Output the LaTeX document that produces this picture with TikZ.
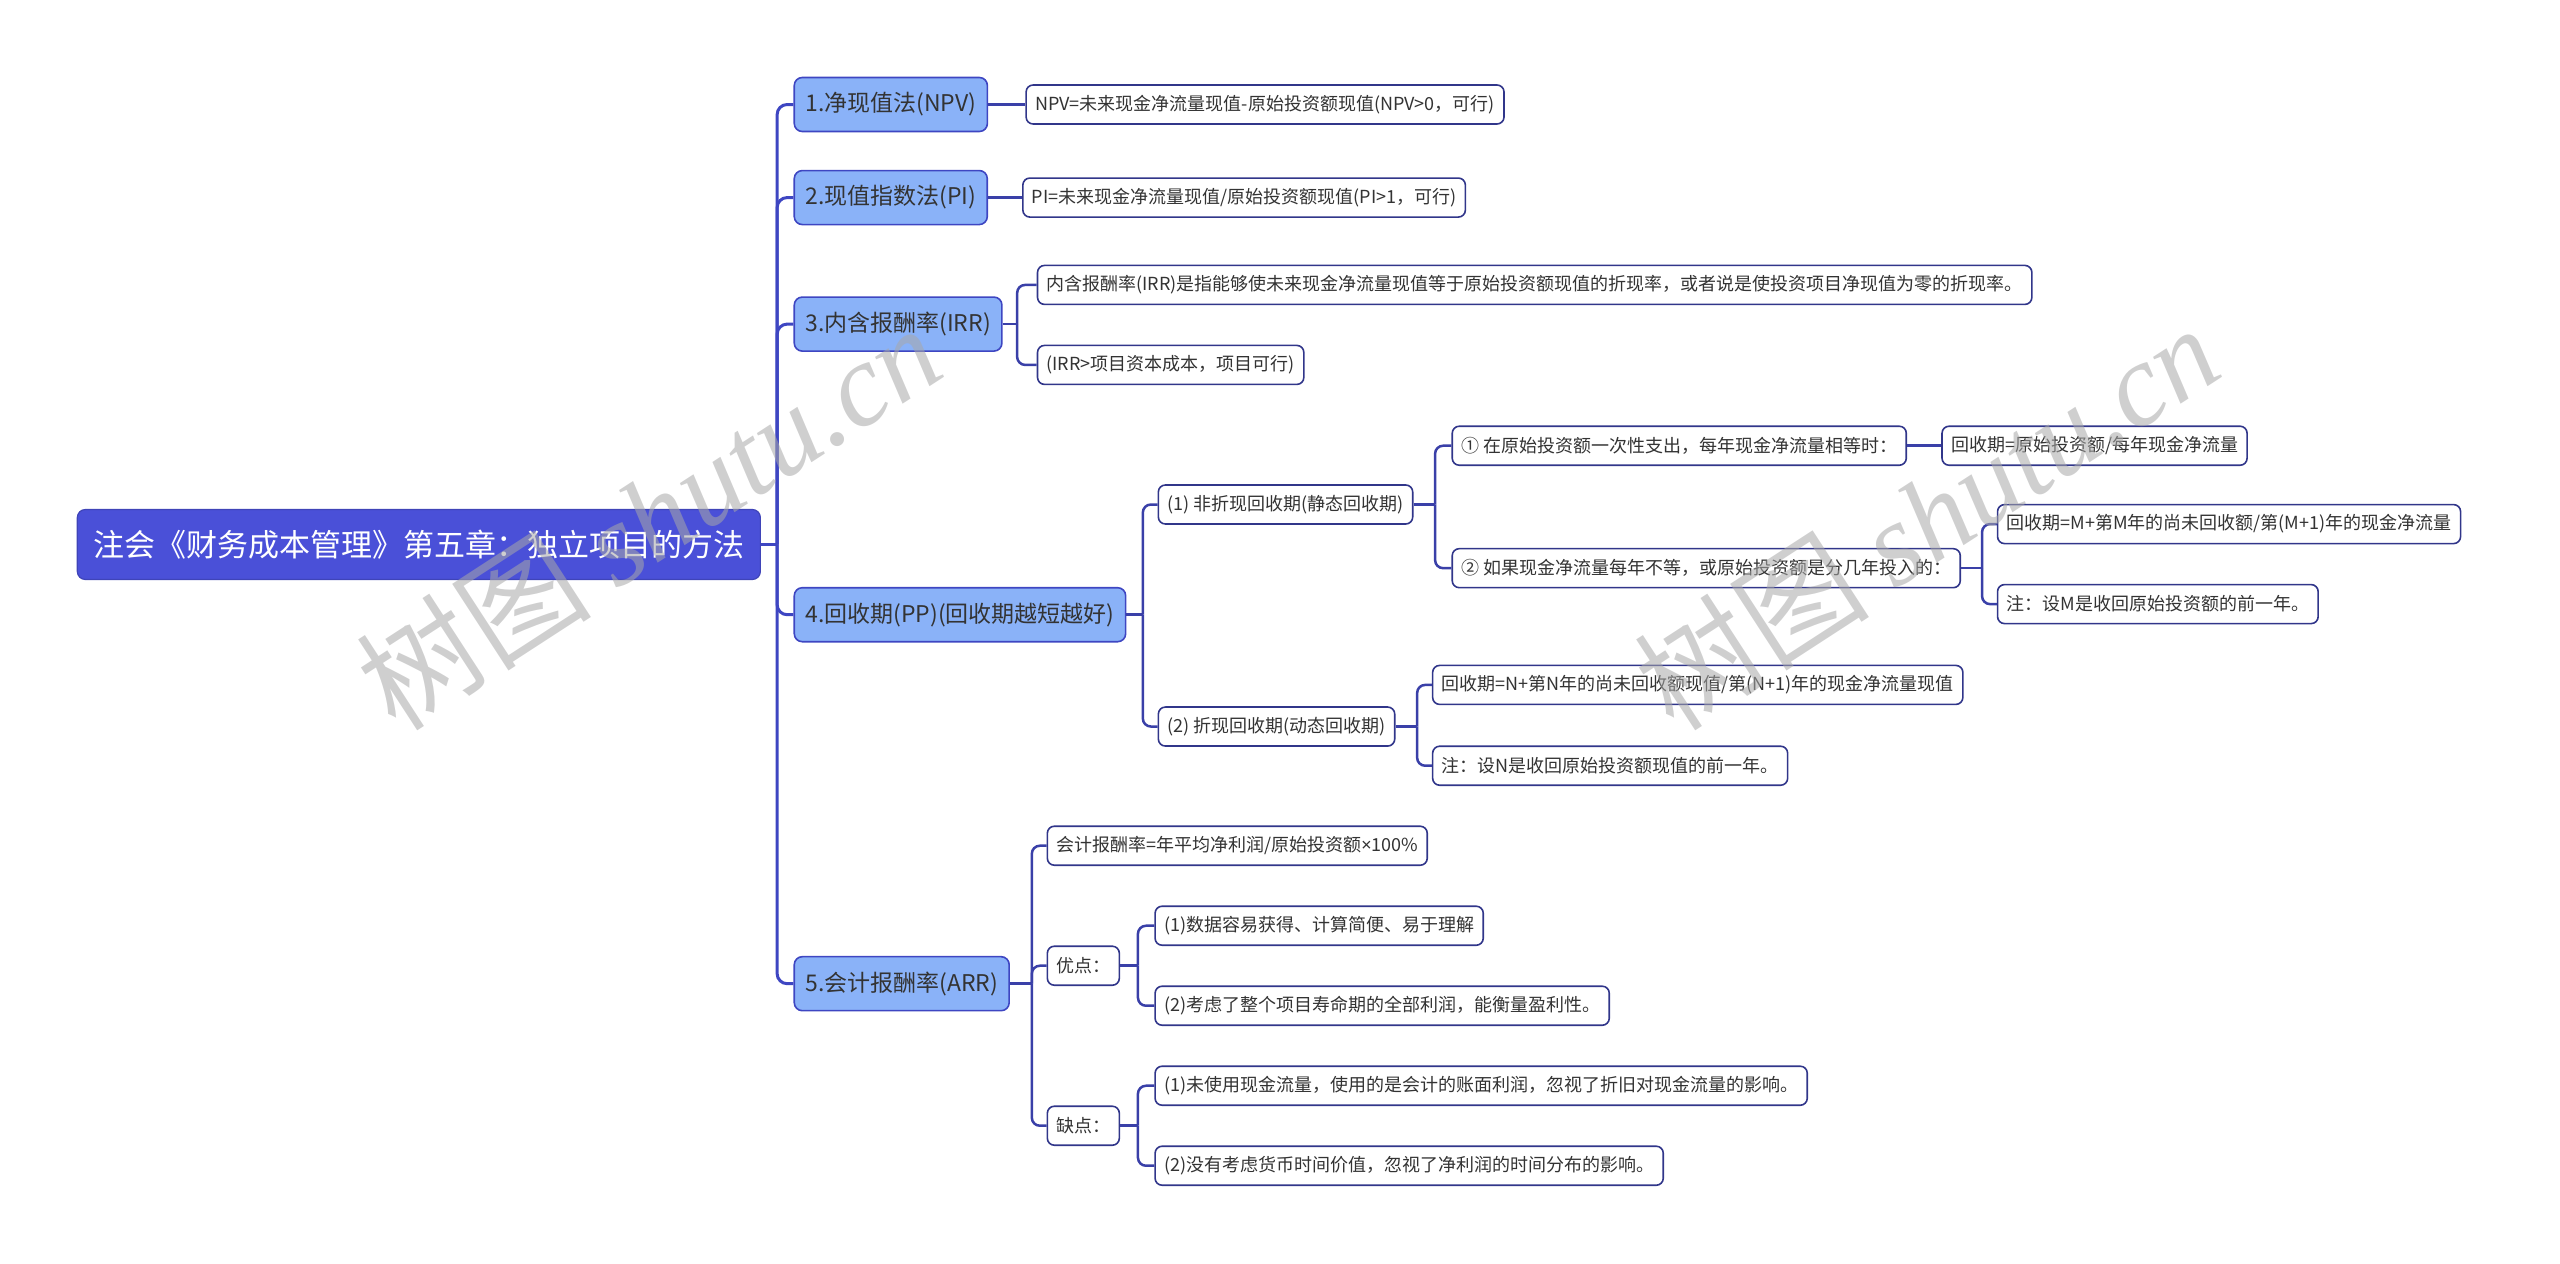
\documentclass[tikz,border=0pt]{standalone}
\usepackage{fontspec}
\setmainfont{Noto Sans CJK SC}
\newfontfamily\wmcjk{Noto Sans CJK SC}
\newfontfamily\wmlat{Liberation Serif}
\newfontfamily\latinsans{Noto Sans}
\definecolor{rootfill}{HTML}{4A50D8}
\definecolor{lvfill}{HTML}{8AB2F8}
\definecolor{lvdraw}{HTML}{3E46C2}
\definecolor{navy}{HTML}{3A40A8}
\definecolor{leafdraw}{HTML}{31368A}
\definecolor{txt}{HTML}{333333}
\definecolor{wmgray}{HTML}{A8A8A8}
\begin{document}
\begin{tikzpicture}[x=0.8163pt,y=-0.8163pt,
 rootbox/.style={draw=rootfill!85!black, fill=rootfill, text=white, rounded corners=4pt, minimum height=35pt, inner xsep=8pt, inner ysep=0pt, font=\fontsize{15.5}{18}\selectfont, anchor=west, line width=0.6pt},
 lvbox/.style={draw=lvdraw, fill=lvfill, text=txt, rounded corners=4pt, minimum height=27pt, inner xsep=5.5pt, inner ysep=0pt, font=\fontsize{11.5}{14}\selectfont, anchor=west, line width=0.8pt},
 leaf/.style={draw=leafdraw, fill=white, text=txt, rounded corners=3.5pt, minimum height=19.5pt, inner xsep=4.5pt, inner ysep=0pt, font=\fontsize{9}{11}\selectfont, anchor=west, line width=0.8pt},
 mainline/.style={draw=lvdraw, line width=1.5pt},
 subline/.style={draw=navy, line width=1.25pt},
 wmark/.style={text=wmgray, opacity=0.55, font=\fontsize{59}{64}\selectfont, inner sep=0pt},
]
\useasboundingbox (0,0) rectangle (1568,774);

% root and level 1
\node[rootbox] (root) at (47,333.5) {注会《财务成本管理》第五章：独立项目的方法};
\node[lvbox] (n1) at (486,64) {1.净现值法(NPV)};
\node[lvbox] (n2) at (486,121) {2.现值指数法(PI)};
\node[lvbox] (n3) at (486,198.5) {3.内含报酬率(IRR)};
\node[lvbox] (n4) at (486,376.5) {4.回收期(PP)(回收期越短越好)};
\node[lvbox] (n5) at (486,602.5) {5.会计报酬率(ARR)};

% leaves
\node[leaf] (a1) at (628,64) {NPV=未来现金净流量现值-原始投资额现值(NPV>0，可行)};
\node[leaf] (b1) at (626,121) {PI=未来现金净流量现值/原始投资额现值(PI>1，可行)};
\node[leaf] (c1) at (635,174.5) {内含报酬率(IRR)是指能够使未来现金净流量现值等于原始投资额现值的折现率，或者说是使投资项目净现值为零的折现率。};
\node[leaf] (c2) at (635,223.5) {(IRR>项目资本成本，项目可行)};
\node[leaf] (d1) at (709,309) {(1) 非折现回收期(静态回收期)};
\node[leaf] (d2) at (709,445) {(2) 折现回收期(动态回收期)};
\node[leaf] (e1) at (889,273) {① 在原始投资额一次性支出，每年现金净流量相等时：};
\node[leaf] (e2) at (889,348) {② 如果现金净流量每年不等，或原始投资额是分几年投入的：};
\node[leaf] (f1) at (1189,273) {回收期=原始投资额/每年现金净流量};
\node[leaf] (g1) at (1223,321) {回收期=M+第M年的尚未回收额/第(M+1)年的现金净流量};
\node[leaf] (g2) at (1223,370) {注：设M是收回原始投资额的前一年。};
\node[leaf] (h1) at (877,419.5) {回收期=N+第N年的尚未回收额现值/第(N+1)年的现金净流量现值};
\node[leaf] (h2) at (877,469) {注：设N是收回原始投资额现值的前一年。};
\node[leaf] (k1) at (641,518) {会计报酬率=年平均净利润/原始投资额{\latinsans ×}100\%};
\node[leaf] (k2) at (641,591.5) {优点：};
\node[leaf] (k3) at (641,689.5) {缺点：};
\node[leaf] (m1) at (707,567) {(1)数据容易获得、计算简便、易于理解};
\node[leaf] (m2) at (707,616) {(2)考虑了整个项目寿命期的全部利润，能衡量盈利性。};
\node[leaf] (p1) at (707,665) {(1)未使用现金流量，使用的是会计的账面利润，忽视了折旧对现金流量的影响。};
\node[leaf] (p2) at (707,714) {(2)没有考虑货币时间价值，忽视了净利润的时间分布的影响。};

% spine coordinates
\coordinate (s0) at (476,0);
\coordinate (s3) at (623,0);
\coordinate (s4) at (700,0);
\coordinate (sd1) at (879,0);
\coordinate (se2) at (1214,0);
\coordinate (sd2) at (868,0);
\coordinate (s5) at (632,0);
\coordinate (sk) at (697,0);

% root -> level 1
\draw[mainline] (root.east) -- (s0 |- root.east);
\foreach \c in {n1,n2,n3,n4,n5}
  \draw[mainline, rounded corners=5pt] (s0 |- root.east) |- (\c.west);

% straight links
\draw[subline] (n1.east) -- (a1.west);
\draw[subline] (n2.east) -- (b1.west);
\draw[subline] (e1.east) -- (f1.west);

% branching links
\draw[subline] (n3.east) -- (s3 |- n3.east);
\foreach \c in {c1,c2}
  \draw[subline, rounded corners=4pt] (s3 |- n3.east) |- (\c.west);
\draw[subline] (n4.east) -- (s4 |- n4.east);
\foreach \c in {d1,d2}
  \draw[subline, rounded corners=4pt] (s4 |- n4.east) |- (\c.west);
\draw[subline] (d1.east) -- (sd1 |- d1.east);
\foreach \c in {e1,e2}
  \draw[subline, rounded corners=4pt] (sd1 |- d1.east) |- (\c.west);
\draw[subline] (e2.east) -- (se2 |- e2.east);
\foreach \c in {g1,g2}
  \draw[subline, rounded corners=4pt] (se2 |- e2.east) |- (\c.west);
\draw[subline] (d2.east) -- (sd2 |- d2.east);
\foreach \c in {h1,h2}
  \draw[subline, rounded corners=4pt] (sd2 |- d2.east) |- (\c.west);
\draw[subline] (n5.east) -- (s5 |- n5.east);
\foreach \c in {k1,k2,k3}
  \draw[subline, rounded corners=4pt] (s5 |- n5.east) |- (\c.west);
\draw[subline] (k2.east) -- (sk |- k2.east);
\foreach \c in {m1,m2}
  \draw[subline, rounded corners=4pt] (sk |- k2.east) |- (\c.west);
\draw[subline] (k3.east) -- (sk |- k3.east);
\foreach \c in {p1,p2}
  \draw[subline, rounded corners=4pt] (sk |- k3.east) |- (\c.west);

% watermarks
\node[wmark, rotate=33] (wm1) at (397,316) {{\wmcjk 树图} {\wmlat\itshape shutu.cn}};
\node[wmark, rotate=33] (wm2) at (1180,316) {{\wmcjk 树图} {\wmlat\itshape shutu.cn}};
\end{tikzpicture}
\end{document}
